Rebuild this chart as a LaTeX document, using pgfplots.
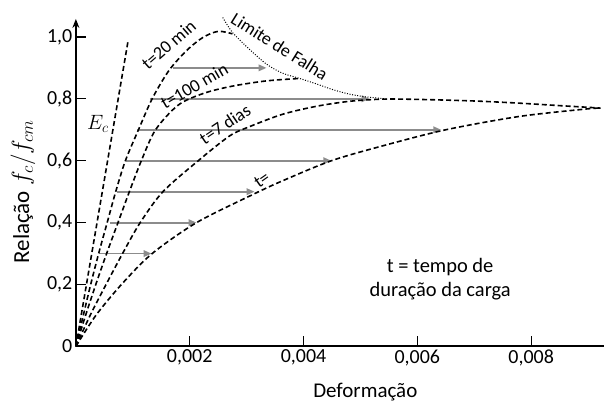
\documentclass[border=0pt]{standalone}
\usepackage{fontspec}
\setmainfont{Carlito}
\usepackage{pgfplots}
\pgfplotsset{compat=1.18}
\usetikzlibrary{arrows.meta}
\definecolor{arr}{RGB}{140,140,140}
\pgfplotsset{
  curve/.style={black, line width=1.6pt, dash pattern=on 5pt off 3pt, smooth},
  harrow/.style={arr, line width=1.8pt, -{Triangle[length=8pt,width=6.5pt]}},
}
\begin{document}
\begin{tikzpicture}
\begin{axis}[
  scale only axis, width=529pt, height=328pt,
  xmin=0, xmax=0.00928, ymin=0, ymax=1.058,
  axis x line=bottom, axis y line=left,
  x axis line style={-, line width=2pt},
  y axis line style={-{Stealth[length=9pt,width=7pt]}, line width=2pt},
  tick align=inside, major tick length=10pt,
  tick style={black, line width=1.3pt},
  xtick={0.002,0.004,0.006,0.008},
  xticklabels={{0,002},{0,004},{0,006},{0,008}},
  ytick={0,0.2,0.4,0.6,0.8,1.0},
  yticklabels={0,{0,2},{0,4},{0,6},{0,8},{1,0}},
  scaled x ticks=false, scaled y ticks=false,
  ticklabel style={font=\fontsize{20}{22}\selectfont},
  xlabel={Deformação}, ylabel={Relação $f_c/f_{cm}$},
  every axis x label/.style={at={(axis description cs:0.548,-0.138)}, anchor=center, font=\fontsize{21}{23}\selectfont},
  every axis y label/.style={at={(axis description cs:-0.1002,0.4726)}, rotate=90, anchor=center, font=\fontsize{23}{25}\selectfont},
  clip=false,
]
% horizontal arrows
\addplot[harrow] coordinates {(0.00170,0.9) (0.00335,0.9)};
\addplot[harrow] coordinates {(0.00130,0.8) (0.00516,0.8)};
\addplot[harrow] coordinates {(0.00107,0.7) (0.00642,0.7)};
\addplot[harrow] coordinates {(0.000877,0.6) (0.00449,0.6)};
\addplot[harrow] coordinates {(0.000725,0.5) (0.00314,0.5)};
\addplot[harrow] coordinates {(0.000596,0.4) (0.00212,0.4)};
\addplot[harrow] coordinates {(0.000409,0.3) (0.00133,0.3)};
% Ec
\addplot[black, line width=1.6pt, dash pattern=on 5pt off 3pt] coordinates {(0,0) (0.00092,0.99)};
% t = 20 min
\addplot[curve] coordinates {
 (0,0) (0.00013,0.1) (0.00026,0.2) (0.00040,0.3) (0.00055,0.4) (0.00070,0.5)
 (0.00087,0.6) (0.00110,0.7) (0.00134,0.8) (0.00163,0.89) (0.00194,0.955)
 (0.00223,0.998) (0.00250,1.018) (0.00275,1.010)};
% t = 100 min
\addplot[curve] coordinates {
 (0,0) (0.00017,0.1) (0.00035,0.2) (0.00054,0.3) (0.00074,0.4) (0.00094,0.5)
 (0.00115,0.6) (0.00140,0.7) (0.00180,0.78) (0.00225,0.818) (0.00275,0.841)
 (0.00335,0.858) (0.00395,0.866)};
% t = 7 dias
\addplot[curve] coordinates {
 (0,0) (0.00025,0.1) (0.00053,0.2) (0.00082,0.3) (0.00113,0.4) (0.00153,0.5)
 (0.00215,0.6) (0.00270,0.68) (0.00305,0.71) (0.00363,0.75) (0.00423,0.776)
 (0.00481,0.792) (0.00540,0.799) (0.00604,0.798) (0.00700,0.793) (0.00779,0.786)
 (0.00850,0.778) (0.00896,0.773) (0.00922,0.770)};
% t = infinity
\addplot[curve] coordinates {
 (0,0) (0.00035,0.1) (0.00080,0.2) (0.00134,0.3) (0.00212,0.4) (0.00310,0.49)
 (0.00363,0.535) (0.00449,0.60) (0.00539,0.648) (0.00650,0.70)
 (0.00779,0.743) (0.00896,0.767) (0.00922,0.770)};
% Limite de falha
\addplot[black, line width=1pt, dash pattern=on 1pt off 1.6pt, smooth] coordinates {
 (0.00258,1.063) (0.00275,1.015) (0.00305,0.960) (0.00335,0.912) (0.00363,0.883)
 (0.00393,0.866) (0.00423,0.848) (0.00451,0.830) (0.00481,0.815) (0.00511,0.806)
 (0.00546,0.800)};
% labels
\node[rotate=-32, font=\fontsize{18}{20}\selectfont] at (axis cs:0.00358,0.970) {Limite de Falha};
\node[rotate=41, font=\fontsize{18}{20}\selectfont] at (axis cs:0.00163,0.975) {t=20 min};
\node[rotate=30, font=\fontsize{18}{20}\selectfont] at (axis cs:0.00208,0.842) {t=100 min};
\node[rotate=34, font=\fontsize{18}{20}\selectfont] at (axis cs:0.00262,0.718) {t=7 dias};
\node[rotate=35, font=\fontsize{18}{20}\selectfont] at (axis cs:0.00327,0.538) {t=};
\node[font=\fontsize{21}{22}\selectfont] at (axis cs:0.000386,0.719) {$E_c$};
\node[align=center, font=\fontsize{20.5}{24}\selectfont] at (axis cs:0.00640,0.218) {t = tempo de\\duração da carga};
\path ([xshift=-76pt,yshift=-56pt]axis cs:0,0) rectangle ([xshift=529pt,yshift=347pt]axis cs:0,0);
\end{axis}
\end{tikzpicture}
\end{document}
